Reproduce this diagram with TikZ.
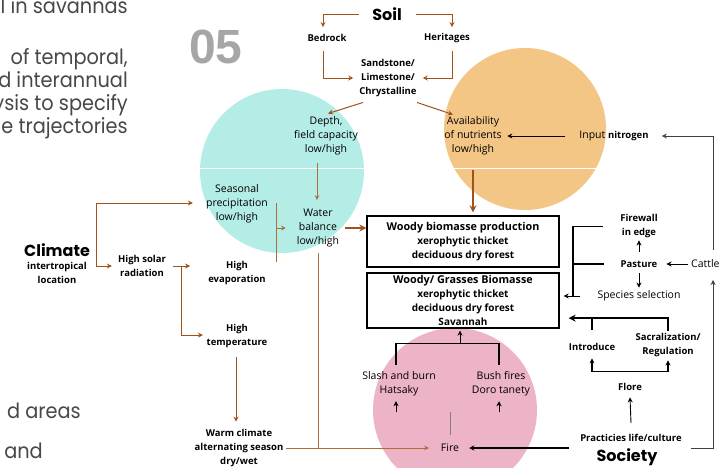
\documentclass[tikz,border=0pt]{standalone}
\usepackage{fontspec}
\usetikzlibrary{arrows.meta,calc}
\newfontfamily\dgf{Open Sans}
\newfontfamily\geof{Poppins}
\newfontfamily\parf{Poppins}[FakeStretch=0.92]
\newfontfamily\numf{Liberation Sans}
\definecolor{brn}{HTML}{A0521A}
\definecolor{cyanc}{HTML}{B4ECE6}
\definecolor{orc}{HTML}{F4C686}
\definecolor{pkc}{HTML}{EDB3C6}
\definecolor{parag}{HTML}{484848}
\definecolor{numc}{HTML}{A6A6A6}
\definecolor{gyline}{HTML}{404040}
\begin{document}
\begin{tikzpicture}[x=1pt,y=-1pt,
  lbl/.style={font=\dgf\fontsize{10.5}{14}\selectfont, align=center, inner sep=1pt},
  blbl/.style={font=\dgf\bfseries\fontsize{9.5}{14}\selectfont, align=center, inner sep=1pt},
  bigl/.style={font=\geof\bfseries\fontsize{16}{16}\selectfont, inner sep=1pt},
  para/.style={font=\parf\fontsize{21}{23}\selectfont, text=parag, anchor=base east, inner sep=0pt},
  bbox/.style={draw=black, line width=1.3pt, minimum width=192pt, align=center, inner sep=1pt,
    font=\dgf\bfseries\fontsize{10}{14}\selectfont},
  brarr/.style={draw=brn, line width=1pt, -{Stealth[length=5pt,width=5pt]}},
  brthin/.style={draw=brn!85, line width=0.7pt, -{Stealth[length=4.5pt,width=4.5pt]}},
  brline/.style={draw=brn!85, line width=0.7pt},
  brthk/.style={draw=brn, line width=1.8pt, -{Stealth[length=7pt,width=7pt]}},
  bkarr/.style={draw=black, line width=0.9pt, -{Stealth[length=5pt,width=5pt]}},
  bkthk/.style={draw=black, line width=1.8pt},
  bkmid/.style={draw=black, line width=1.2pt},
  gyarr/.style={draw=gyline, line width=1pt, -{Stealth[length=5pt,width=5pt]}},
  gyln/.style={draw=gray, line width=0.6pt}
]
\useasboundingbox (0,0) rectangle (719,467);
\clip (0,0) rectangle (719,467);
\fill[white] (0,0) rectangle (719,467);

% circles
\fill[cyanc] (282,171) circle[radius=82];
\fill[orc] (525,129) circle[radius=81];
\fill[pkc] (455,410) circle[radius=82];
\draw[white, line width=0.7pt] (199,168) -- (365,168);
\draw[white, line width=0.7pt] (443,168) -- (607,168);

% clipped paragraph text
\node[para] (p1) at (128,13.5) {l in savannas};
\node[para] (p2) at (128,64.5) {of temporal,};
\node[para] (p3) at (128,87.5) {d interannual};
\node[para] (p4) at (128,110.5) {ysis to specify};
\node[para] (p5) at (128,133.5) {e trajectories};
\node[para] (p6) at (81,418) {d areas};
\node[para] (p7) at (43,458) {and};
\node[font=\numf\bfseries\fontsize{48}{48}\selectfont, text=numc, anchor=base west, inner sep=0pt] (num) at (189,63) {05};

% nodes
\node[bigl] (soil) at (387,14) {Soil};
\node[blbl] (bedrock) at (327,38) {Bedrock};
\node[blbl] (herit) at (447,38) {Heritages};
\node[blbl] (sand) at (388,78) {Sandstone/\\Limestone/\\Chrystalline};
\node[lbl] (depth) at (326,136) {Depth,\\field capacity\\low/high};
\node[lbl] (avail) at (473,136) {Availability\\of nutrients\\low/high};
\node[lbl] (nitro) at (614,136) {Input \textbf{\fontsize{9.5}{14}\selectfont nitrogen}};
\node[lbl] (precip) at (237,204) {Seasonal\\precipitation\\low/high};
\node[lbl] (water) at (318,228) {Water\\balance\\low/high};
\node[bigl] (climate) at (57,250) {Climate};
\node[blbl] (intertrop) at (57,273) {intertropical\\location};
\node[blbl] (solar) at (142,266) {High solar\\radiation};
\node[blbl] (evap) at (237,273) {High\\evaporation};
\node[blbl] (temp) at (237,336) {High\\temperature};
\node[blbl] (warm) at (239,448) {Warm climate\\alternating season\\dry/wet};
\node[bbox, minimum height=51pt] (box1) at (463,241.5) {{\fontsize{10.8}{14}\selectfont Woody biomasse production}\\xerophytic thicket\\deciduous dry forest};
\node[bbox, minimum height=55pt] (box2) at (463,300.5) {{\fontsize{10.8}{14}\selectfont Woody/ Grasses Biomasse}\\xerophytic thicket\\deciduous dry forest\\Savannah};
\node[blbl] (firewall) at (639,226.5) {Firewall\\in edge};
\node[blbl] (pasture) at (639,264) {Pasture};
\node[lbl] (species) at (639,296) {Species selection};
\node[lbl, anchor=west] (cattle) at (690,264) {Cattle};
\node[blbl] (intro) at (592,347) {Introduce};
\node[blbl] (sacral) at (668,345.5) {Sacralization/\\Regulation};
\node[blbl] (flore) at (630,387) {Flore};
\node[blbl] (pract) at (631,438) {Practicies life/culture};
\node[bigl] (society) at (627,457) {Society};
\node[lbl] (slash) at (399,384) {Slash and burn\\Hatsaky};
\node[lbl] (bush) at (501,384) {Bush fires\\Doro tanety};
\node[lbl] (fire) at (450,448) {Fire};

% soil connectors
\draw[brarr] ([xshift=-12pt]soil.west) -| ([xshift=-4pt,yshift=6pt]bedrock.north);
\draw[brarr] ([xshift=13pt]soil.east) -| ([xshift=5pt,yshift=5pt]herit.north);
\draw[brarr] ([xshift=-4pt,yshift=-8.5pt]bedrock.south) |- ([xshift=-5pt]sand.west);
\draw[brarr] ([xshift=5pt,yshift=-7.5pt]herit.south) |- ([xshift=5pt]sand.east);
\draw[brarr] ([xshift=-25pt,yshift=-4.5pt]sand.south) -- ([xshift=2pt,yshift=2pt]depth.north);
\draw[brarr] ([xshift=29pt,yshift=-4.5pt]sand.south) -- ([xshift=-20pt,yshift=1pt]avail.north);

% water
\draw[brthin] ([xshift=-9pt,yshift=-7pt]depth.south) -- ([xshift=-1pt,yshift=8pt]water.north);
\coordinate (pj) at ([xshift=7pt]precip.east);
\draw[brline] ([yshift=1pt]pj) -- ([yshift=-2pt]pj |- evap.north);
\draw[brthin] (pj |- water.west) -- ([xshift=-10pt]water.west);
\draw[brthk] ([xshift=5pt]water.east) -- (box1.west |- water.east);
\draw[brline] ([yshift=-5pt]water.south) -- (water.south |- fire.west);

% nutrients
\draw[bkarr] ([xshift=-13pt]nitro.west) -- ([xshift=4.5pt]avail.east);
\draw[brthk] ([yshift=-14pt]avail.south) -- ([yshift=3pt]avail.south |- box1.north);

% climate
\draw[brarr] ([xshift=5pt]climate.east) |- ([xshift=-12pt,yshift=1pt]precip.west);
\draw[brarr] ([xshift=5pt]climate.east) |- ([xshift=-5pt]solar.west);
\draw[brarr] ([xshift=6pt]solar.east) -- ++(17,0);
\draw[brarr] ([xshift=14pt]solar.east) |- ([xshift=-2.5pt,yshift=1pt]temp.west);
\draw[brarr] ([xshift=-1pt,yshift=-8.5pt]temp.south) -- ([xshift=-3pt,yshift=6.5pt]warm.north);
\draw[brthin] ([xshift=1pt]warm.east) -- ([xshift=-11pt]fire.west);

% pasture group
\coordinate (cr) at ([xshift=23pt]cattle.west);
\draw[gyarr] ([yshift=14pt]cr) |- ([xshift=12pt]nitro.east);
\draw[bkarr] ([xshift=-2pt]cattle.west) -- ([xshift=8pt]pasture.east);
\draw[bkarr] ([yshift=7.5pt]pasture.north) -- ([yshift=-1pt]firewall.south);
\draw[bkarr] ([yshift=-4.5pt]pasture.south) -- ([yshift=2pt]species.north);
\coordinate (bj) at ([xshift=-23pt]species.west);
\draw[bkthk] ([xshift=-16pt]firewall.west) -| (bj);
\draw[bkthk] ([xshift=-16pt]pasture.west) -- (pasture.west -| bj);
\draw[bkarr] ([xshift=-16pt]species.west) -- ([xshift=4pt]box2.east |- species.west);

% society group
\coordinate (tb) at ([yshift=24pt]intro.north);
\draw[bkthk] ([yshift=12.5pt]intro.north) -- (tb);
\draw[bkthk, -{Stealth[length=7pt,width=7pt]}] ([yshift=2pt]sacral.north) |- ([xshift=9pt]box2.east |- tb);
\coordinate (fb) at ([yshift=-19.5pt]intro.south);
\draw[bkmid, {Stealth[length=5pt,width=5pt]}-{Stealth[length=5pt,width=5pt]}] ([yshift=-6.5pt]intro.south) -- (fb) -| ([yshift=-2pt]sacral.south);
\draw[bkarr] ([yshift=10pt]pract.north) -- ([yshift=-5.5pt]flore.south);
\draw[bkarr, line width=1.2pt] ([xshift=-10pt]pract.west |- fire.east) -- ([xshift=9pt]fire.east);
\draw[gyarr] ([xshift=8pt]pract.east |- fire.east) -| ([yshift=-16pt]cr);

% fire group
\draw[gyln] ([yshift=8pt]fire.north) -- ([yshift=31pt]fire.north);
\draw[bkarr] ([xshift=-3pt,yshift=-14.75pt]slash.south) -- ([xshift=-3pt,yshift=-3.75pt]slash.south);
\draw[bkarr] ([xshift=-2pt,yshift=-14.75pt]bush.south) -- ([xshift=-2pt,yshift=-3.75pt]bush.south);
\coordinate (pb) at ([yshift=-15pt]box2.south);
\draw[bkmid] ([xshift=-3pt,yshift=5.75pt]slash.north) -- ([xshift=-3pt]slash.north |- pb) -- ([xshift=-2pt]bush.north |- pb) -- ([xshift=-2pt,yshift=5.75pt]bush.north);
\draw[bkarr] ([xshift=-3pt]pb) -- ([xshift=-3pt,yshift=-2pt]box2.south);
\end{tikzpicture}
\end{document}
